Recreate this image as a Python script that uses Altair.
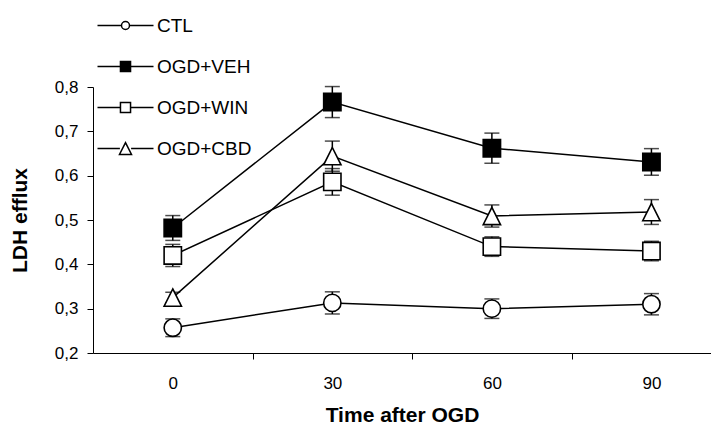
import altair as alt
import pandas as pd

# ---- data ----
series_names = ["CTL", "OGD+VEH", "OGD+WIN", "OGD+CBD"]
times = [0, 30, 60, 90]
ctl = [0.257, 0.313, 0.300, 0.310]
ctl_se = [0.020, 0.025, 0.022, 0.024]
veh = [0.482, 0.766, 0.662, 0.631]
veh_se = [0.028, 0.035, 0.034, 0.030]
win = [0.420, 0.586, 0.440, 0.430]
win_se = [0.025, 0.030, 0.022, 0.022]
cbd = [0.325, 0.644, 0.509, 0.518]
cbd_se = [0.012, 0.034, 0.025, 0.028]

values = {"CTL": (ctl, ctl_se), "OGD+VEH": (veh, veh_se),
          "OGD+WIN": (win, win_se), "OGD+CBD": (cbd, cbd_se)}
rows = []
for s in series_names:
    m, e = values[s]
    for t, v, se in zip(times, m, e):
        rows.append({"series": s, "time": t, "ldh": v, "lo": v - se, "hi": v + se})
df = pd.DataFrame(rows)

FONT = "Liberation Sans"
tri = "M0,-1L1,1L-1,1Z"
point_shapes = ["circle", "square", "square", tri]
fills = ["white", "black", "white", "white"]
strokes = ["black", "black", "black", "black"]
# legend symbols: a short line with the marker in its middle (unit = 7 px)
legend_paths = [
    "M-4,0H-0.57M0.57,0H4M0.57,0A0.57,0.57 0 1,1 -0.57,0A0.57,0.57 0 1,1 0.57,0Z",
    "M-4,0H-0.72M0.72,0H4M-0.72,-0.72H0.72V0.72H-0.72Z",
    "M-4,0H-0.72M0.72,0H4M-0.72,-0.72H0.72V0.72H-0.72Z",
    "M-4,0H-0.8M0.8,0H4M0,-0.85L0.86,0.85H-0.86Z",
]

x_enc = alt.X("time:Q",
              scale=alt.Scale(domain=[-15, 101.2], nice=False, zero=False),
              axis=alt.Axis(values=[0, 15, 30, 45, 60, 75, 90],
                            labelExpr="datum.value % 30 == 0 ? datum.label : ''",
                            tickOpacity={"condition": {"test": "datum.value % 30 == 0", "value": 0}, "value": 1},
                            tickSize=6, labelPadding=16, labelFontSize=17,
                            title="Time after OGD", titleFontSize=21, titleFontWeight="bold",
                            titlePadding=13, grid=False, domainColor="black",
                            tickColor="black", labelColor="black", titleColor="black",
                            labelFont=FONT, titleFont=FONT))
y_enc = alt.Y("ldh:Q",
              scale=alt.Scale(domain=[0.2, 0.8], nice=False, zero=False),
              axis=alt.Axis(values=[0.2, 0.3, 0.4, 0.5, 0.6, 0.7, 0.8], format=".1f",
                            labelExpr="replace(datum.label, '.', ',')",
                            tickSize=6, labelPadding=9, labelFontSize=17,
                            title="LDH efflux", titleFontSize=21, titleFontWeight="bold",
                            titlePadding=24, grid=False, domainColor="black",
                            tickColor="black", labelColor="black", titleColor="black",
                            labelFont=FONT, titleFont=FONT))

base = alt.Chart(df)

lines = base.mark_line(color="black", strokeWidth=1.5).encode(
    x=x_enc, y=y_enc, detail="series:N")

whisk = base.mark_rule(color="black", strokeWidth=1.5).encode(
    x="time:Q", y="lo:Q", y2="hi:Q")
cap_lo = base.mark_tick(color="black", orient="horizontal", size=15, thickness=1.5).encode(
    x="time:Q", y="lo:Q")
cap_hi = base.mark_tick(color="black", orient="horizontal", size=15, thickness=1.5).encode(
    x="time:Q", y="hi:Q")

points = base.mark_point(filled=True, stroke="black", strokeWidth=1.6, size=300, opacity=1).encode(
    x="time:Q", y="ldh:Q",
    shape=alt.Shape("series:N", scale=alt.Scale(domain=series_names, range=point_shapes), legend=None),
    fill=alt.Fill("series:N", scale=alt.Scale(domain=series_names, range=fills), legend=None))

leg = dict(orient="none", legendX=23, legendY=-71, title=None, labelFontSize=19,
           labelFont=FONT, labelColor="black", labelOffset=22, rowPadding=21,
           symbolSize=196, symbolStrokeWidth=1.5, symbolStrokeColor="black",
           symbolOpacity=1, padding=0)
legend_layer = base.transform_filter("false").mark_point(
    filled=False, color="black", strokeWidth=1.5, size=196, opacity=1).encode(
    x="time:Q", y="ldh:Q",
    shape=alt.Shape("series:N", scale=alt.Scale(domain=series_names, range=legend_paths),
                    legend=alt.Legend(**leg)),
    fill=alt.Fill("series:N", scale=alt.Scale(domain=series_names, range=fills),
                  legend=alt.Legend(**leg)),
    stroke=alt.Stroke("series:N", scale=alt.Scale(domain=series_names, range=strokes),
                      legend=alt.Legend(**leg)))

chart = alt.layer(lines, whisk, cap_lo, cap_hi, points, legend_layer).resolve_scale(
    shape="independent", fill="independent", stroke="independent"
).properties(
    width=618, height=266,
    autosize=alt.AutoSizeParams(type="none"),
    padding={"left": 85, "top": 79, "right": 0, "bottom": 74},
    background="white",
).configure_view(stroke=None)

chart.save("out.html", embed_options={"renderer": "svg", "actions": False})
